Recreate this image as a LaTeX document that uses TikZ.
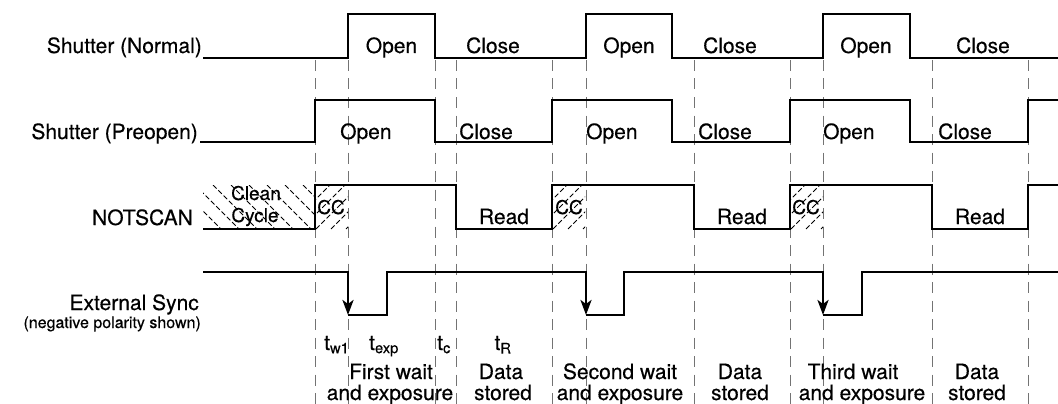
\documentclass[tikz,border=0pt]{standalone}
\usepackage{fontspec}
\setmainfont{TeX Gyre Heros}
\newfontfamily\hv{TeX Gyre Heros}[FakeBold=0.4]
\usetikzlibrary{arrows.meta}
\begin{document}
\begin{tikzpicture}[x=1pt,y=-1pt,
  sig/.style={line width=2.8pt, line join=miter},
  sigarrow/.style={sig, -{Stealth[length=15pt,width=11pt,inset=4pt]}},
  guide/.style={line width=0.9pt, draw=black!55, dash pattern=on 11pt off 7.5pt},
  hatch/.style={line width=0.9pt, dash pattern=on 5pt off 2.5pt},
  lbl/.style={font=\hv\fontsize{21}{21}\selectfont, inner sep=0pt},
  sml/.style={font=\hv\fontsize{19}{19}\selectfont, inner sep=0pt},
  tiny/.style={font=\hv\fontsize{16}{16}\selectfont, inner sep=0pt}]
\useasboundingbox (0,0) rectangle (1058,404);

% guide lines
\foreach \x in {315,348,435,456,552,586,694,790,823,932,1028}
  \draw[guide] (\x,60) -- (\x,404);

% hatching
\begin{scope}
  \clip (203,185) rectangle (315,229);
  \foreach \k in {0,...,8}
    \draw[hatch] (159+\k*18,185) -- ++(44,44);
\end{scope}
\foreach \s in {315,552,790}{
  \begin{scope}
    \clip (\s,185) rectangle (\s+33,229);
    \foreach \k in {0,...,5}
      \draw[hatch] (\s-44+\k*15,229) -- ++(44,-44);
  \end{scope}
}

% signals
\draw[sig] (203,58) -- (348,58) -- (348,14) -- (435,14) -- (435,58) -- (586,58) -- (586,14) -- (672,14) -- (672,58)
  -- (823,58) -- (823,14) -- (910,14) -- (910,58) -- (1058,58);
\draw[sig] (200,142) -- (315,142) -- (315,100) -- (435,100) -- (435,142) -- (552,142) -- (552,100) -- (672,100) -- (672,142)
  -- (790,142) -- (790,100) -- (910,100) -- (910,142) -- (1028,142) -- (1028,100) -- (1058,100);
\draw[sig] (203,229) -- (315,229) -- (315,185) -- (456,185) -- (456,229) -- (552,229) -- (552,185) -- (694,185) -- (694,229)
  -- (790,229) -- (790,185) -- (932,185) -- (932,229) -- (1028,229) -- (1028,185) -- (1058,185);
\draw[sigarrow] (203,272) -- (348,272) -- (348,315);
\draw[sigarrow] (348,315) -- (387,315) -- (387,272) -- (586,272) -- (586,315);
\draw[sigarrow] (586,315) -- (624,315) -- (624,272) -- (823,272) -- (823,315);
\draw[sig] (823,315) -- (862,315) -- (862,272) -- (1058,272);

% row labels
\node[lbl, anchor=base east] (lnormal) at (202,53) {Shutter (Normal)};
\node[lbl, anchor=base east] (lpre) at (198,139) {Shutter (Preopen)};
\node[lbl, anchor=base east] (lnot) at (193,225) {NOTSCAN};
\node[lbl, anchor=base east] (lext) at (199,310) {External Sync};
\node[tiny, anchor=base east] (lneg) at (201,328) {(negative polarity shown)};

% normal shutter labels
\node[lbl, anchor=base] (no1) at (391.5,53) {Open};
\node[lbl, anchor=base] (nc1) at (493,53) {Close};
\node[lbl, anchor=base] (no2) at (629,53) {Open};
\node[lbl, anchor=base] (nc2) at (730,53) {Close};
\node[lbl, anchor=base] (no3) at (866,53) {Open};
\node[lbl, anchor=base] (nc3) at (983,53) {Close};

% preopen labels
\node[lbl, anchor=base west] (po1) at (340,139) {Open};
\node[lbl, anchor=base west] (pc1) at (459,139) {Close};
\node[lbl, anchor=base west] (po2) at (586,139) {Open};
\node[lbl, anchor=base west] (pc2) at (698,139) {Close};
\node[lbl, anchor=base west] (po3) at (823,139) {Open};
\node[lbl, anchor=base west] (pc3) at (938,139) {Close};

% NOTSCAN labels
\node[sml, anchor=base] (clean) at (256,200) {Clean};
\node[sml, anchor=base] (cycle) at (255,222) {Cycle};
\node[sml, anchor=base] (cc1) at (331,214) {CC};
\node[sml, anchor=base] (cc2) at (569,214) {CC};
\node[sml, anchor=base] (cc3) at (806,214) {CC};
\node[lbl, anchor=base] (rd1) at (504,224) {Read};
\node[lbl, anchor=base] (rd2) at (742,224) {Read};
\node[lbl, anchor=base] (rd3) at (980,224) {Read};

% bottom labels
\node[lbl, anchor=base west] (tw1) at (324,350) {t\textsubscript{w1}};
\node[lbl, anchor=base] (texp) at (384,350) {t\textsubscript{exp}};
\node[lbl, anchor=base west] (tc) at (437,350) {t\textsubscript{c}};
\node[lbl, anchor=base] (tr) at (503,350) {t\textsubscript{R}};
\node[lbl, anchor=base] (b1a) at (391,379) {First wait};
\node[lbl, anchor=base] (b1b) at (390,400) {and exposure};
\node[lbl, anchor=base] (b2a) at (501,379) {Data};
\node[lbl, anchor=base] (b2b) at (503,400) {stored};
\node[lbl, anchor=base] (b3a) at (620,379) {Second wait};
\node[lbl, anchor=base] (b3b) at (620,400) {and exposure};
\node[lbl, anchor=base] (b4a) at (740,379) {Data};
\node[lbl, anchor=base] (b4b) at (740,400) {stored};
\node[lbl, anchor=base] (b5a) at (853,379) {Third wait};
\node[lbl, anchor=base] (b5b) at (862,400) {and exposure};
\node[lbl, anchor=base] (b6a) at (977,379) {Data};
\node[lbl, anchor=base] (b6b) at (977,400) {stored};
\end{tikzpicture}
\end{document}
